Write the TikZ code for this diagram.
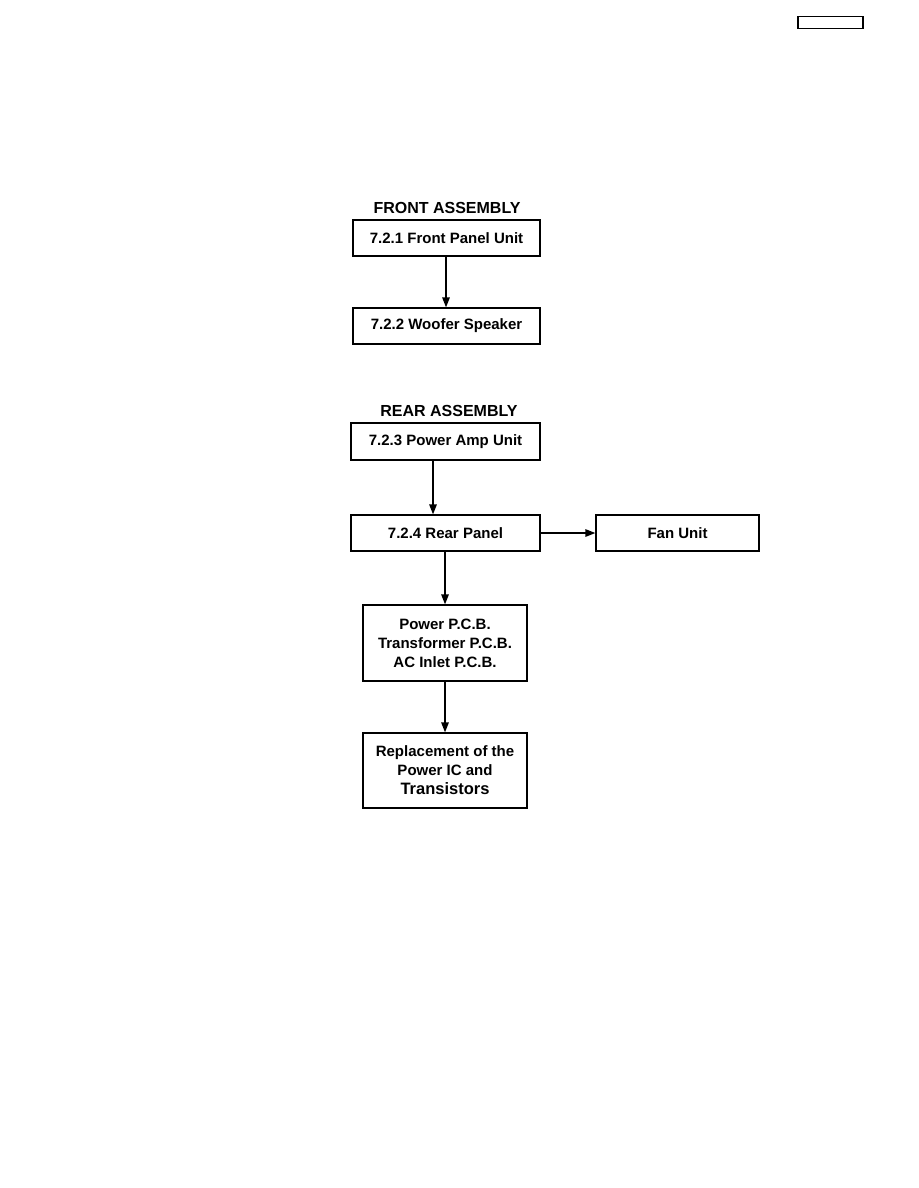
\documentclass[tikz,border=0pt]{standalone}
\usepackage{fontspec}
\setmainfont{Liberation Sans}
\usetikzlibrary{arrows.meta}
\begin{document}
\begin{tikzpicture}[x=1pt,y=-1pt,
  box/.style={draw,line width=1.3pt,inner sep=0pt,align=center,
    font=\bfseries\fontsize{15}{19}\selectfont},
  title/.style={font=\bfseries\fontsize{16}{18}\selectfont,inner sep=0pt},
  arr/.style={line width=1.4pt,-{Triangle[length=10pt,width=7.5pt]}}]
\useasboundingbox (0,0) rectangle (918,1188);
\node[draw,line width=1.2pt,minimum width=65pt,minimum height=12pt,inner sep=0pt] (tag) at (830.5,22.5) {};
\node[title] (ft) at (447,208) {FRONT ASSEMBLY};
\node[box,minimum width=187pt,minimum height=36pt] (b1) at (446.5,238) {7.2.1 Front Panel Unit};
\node[box,minimum width=187pt,minimum height=36pt] (b2) at (446.5,326) {7.2.2 Woofer Speaker};
\node[title] (rt) at (449,411) {REAR ASSEMBLY};
\node[box,minimum width=189pt,minimum height=37pt] (b3) at (445.5,441.5) {7.2.3 Power Amp Unit};
\node[box,minimum width=189pt,minimum height=36pt] (b4) at (445.5,533) {7.2.4 Rear Panel};
\node[box,minimum width=163pt,minimum height=36pt] (fan) at (677.5,533) {Fan Unit};
\node[box,minimum width=164pt,minimum height=76pt] (b5) at (445,643) {Power P.C.B.\\Transformer P.C.B.\\AC Inlet P.C.B.};
\node[box,minimum width=164pt,minimum height=75pt] (b6) at (445,770.5) {Replacement of the\\Power IC and\\{\fontsize{16.5}{19}\selectfont Transistors}};
\draw[arr] (b1.south -| 446,0) -- (b2.north -| 446,0);
\draw[arr] (b3.south -| 433,0) -- (b4.north -| 433,0);
\draw[arr] (b4.east) -- (fan.west);
\draw[arr] (b4.south -| b5.north) -- (b5.north);
\draw[arr] (b5.south) -- (b6.north);
\end{tikzpicture}
\end{document}
